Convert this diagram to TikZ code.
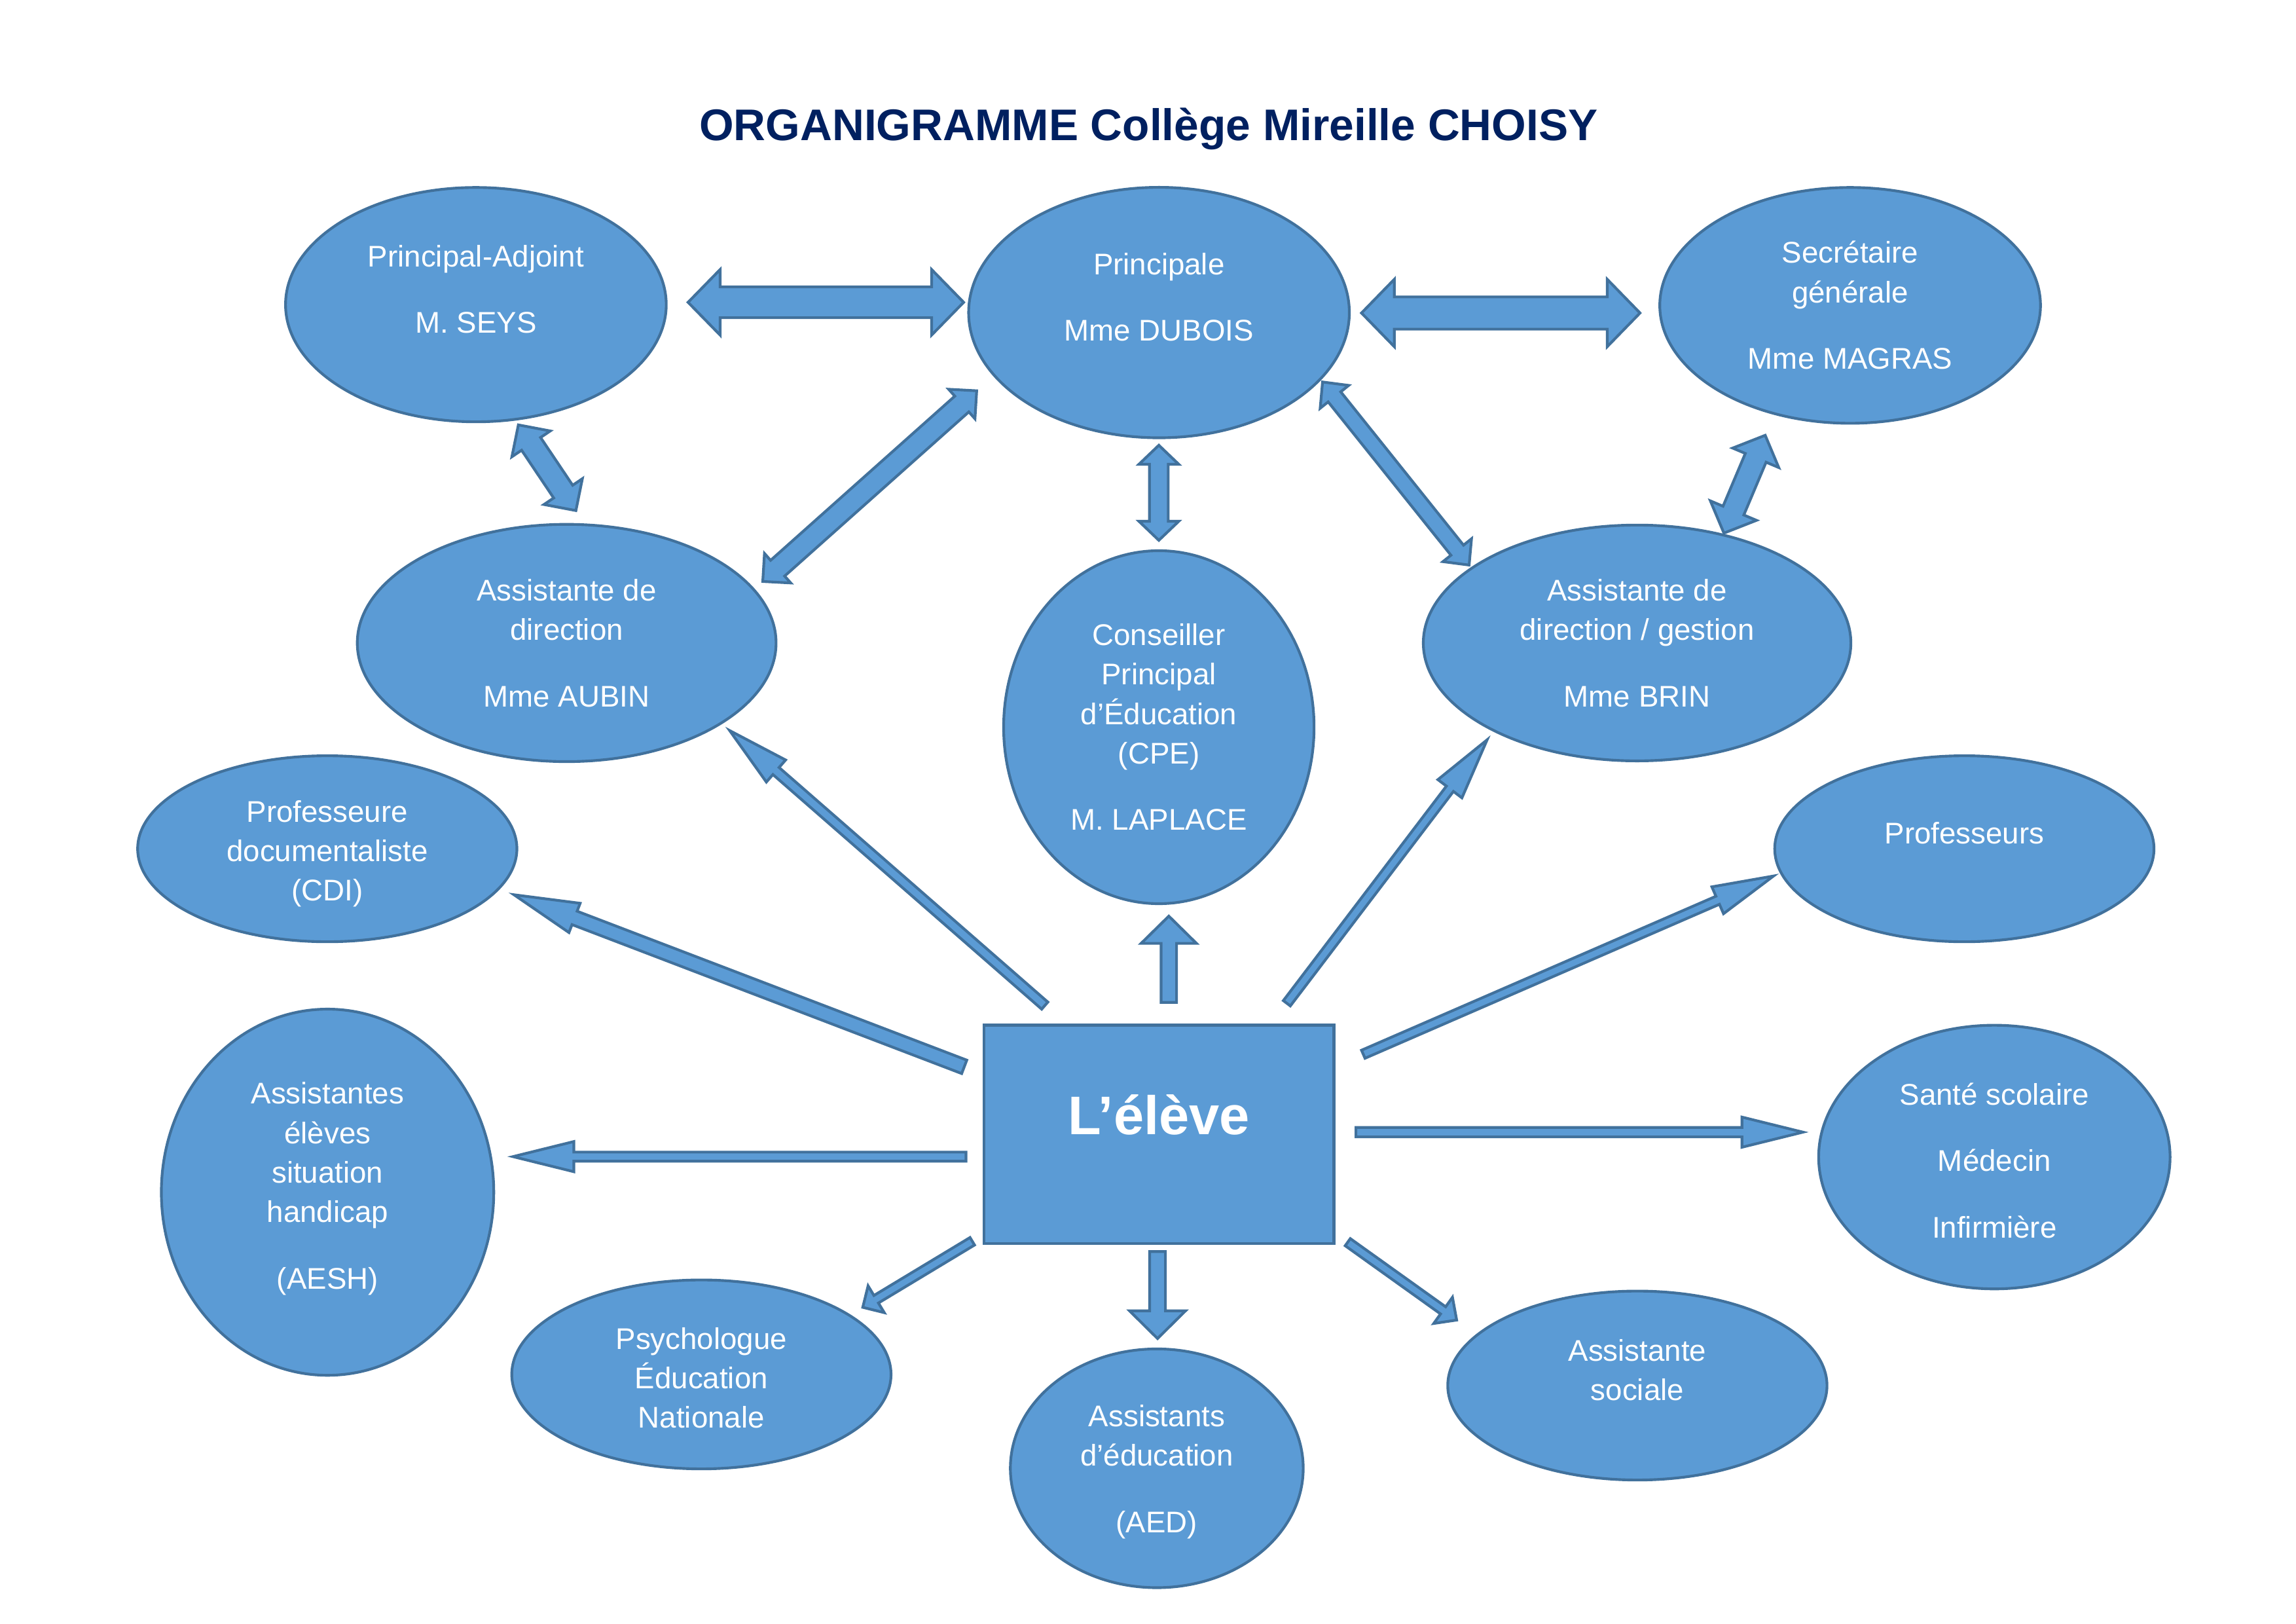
\documentclass[tikz,border=0pt]{standalone}
\usepackage{fontspec}
\setmainfont{Liberation Sans}
\usetikzlibrary{calc,shapes.geometric}

\definecolor{fillblue}{HTML}{5B9BD5}
\definecolor{edgeblue}{HTML}{41719C}
\definecolor{titleblue}{HTML}{002060}

% one pixel of the page
\def\pxu{0.018941cm}
% empty last line, pushes the text up a bit
\newcommand{\liftup}[1][-3pt]{\\[#1]\mbox{}}
% empty first line, pushes the text down a bit
\newcommand{\dropdown}[1][-3.9pt]{\mbox{}\\[#1]}

% block arrow: tail, tip, half shaft, half head, head length
\newcommand{\onearrow}[5]{%
  \coordinate (hb) at ($(#2)!#5*\pxu!(#1)$);
  \filldraw[barrow] ($(#1)!#3*\pxu!90:(#2)$) -- ($(hb)!#3*\pxu!90:(#2)$)
    -- ($(hb)!#4*\pxu!90:(#2)$) -- (#2) -- ($(hb)!#4*\pxu!-90:(#2)$)
    -- ($(hb)!#3*\pxu!-90:(#2)$) -- ($(#1)!#3*\pxu!-90:(#2)$) -- cycle;
}
% same with a head at both ends
\newcommand{\twoarrow}[5]{%
  \coordinate (ha) at ($(#1)!#5*\pxu!(#2)$);
  \coordinate (hb) at ($(#2)!#5*\pxu!(#1)$);
  \filldraw[barrow] (#1) -- ($(ha)!#4*\pxu!90:(#2)$) -- ($(ha)!#3*\pxu!90:(#2)$)
    -- ($(hb)!#3*\pxu!90:(#2)$) -- ($(hb)!#4*\pxu!90:(#2)$) -- (#2)
    -- ($(hb)!#4*\pxu!-90:(#2)$) -- ($(hb)!#3*\pxu!-90:(#2)$)
    -- ($(ha)!#3*\pxu!-90:(#2)$) -- ($(ha)!#4*\pxu!-90:(#2)$) -- cycle;
}

\begin{document}
\begin{tikzpicture}[x=\pxu, y=-\pxu,
    role/.style={ellipse, draw=edgeblue, fill=fillblue, line width=1pt, text=white,
      font=\fontsize{11}{14.5}\selectfont, align=center, inner sep=0pt},
    oval/.style 2 args={role, minimum width=#1*\pxu, minimum height=#2*\pxu},
    barrow/.style={draw=edgeblue, fill=fillblue, line width=1pt, line join=miter}]
    \useasboundingbox (0,0) rectangle (1568,1108.8);

    % the title
    \node[font=\fontsize{16.3}{19}\selectfont\bfseries, text=titleblue, anchor=base] (title) at (784.4,95.7) {ORGANIGRAMME Collège Mireille CHOISY};

    % the roles
    \node[oval={260}{160}] (pa) at (325,208) {Principal-Adjoint\\[10pt]M. SEYS\liftup};
    \node[oval={260}{171}] (pr) at (791.5,213.4) {Principale\\[10pt]Mme DUBOIS\liftup};
    \node[oval={260}{161}] (sg) at (1263.5,208.5) {Secrétaire\\générale\\[10pt]Mme MAGRAS};
    \node[oval={286}{162}] (au) at (387,439) {Assistante de\\direction\\[10pt]Mme AUBIN};
    \node[oval={212}{241}] (cpe) at (791.4,496.5) {Conseiller\\Principal\\d’Éducation\\(CPE)\\[10pt]M. LAPLACE};
    \node[oval={292}{161}] (br) at (1118,439) {Assistante de\\direction / gestion\\[10pt]Mme BRIN};
    \node[oval={259}{127}] (pd) at (223.5,579.5) {\dropdown[-2.8pt]Professeure\\documentaliste\\(CDI)};
    \node[oval={259}{127}] (pf) at (1341.5,579.5) {Professeurs\liftup};
    \node[oval={227}{250}] (aesh) at (223.7,814) {Assistantes\\élèves\\situation\\handicap\\[10pt](AESH)\liftup[-9.6pt]};
    \node[oval={240}{180}] (ss) at (1362,790) {\dropdown Santé scolaire\\[10pt]Médecin\\[10pt]Infirmière};
    \node[oval={259}{129}] (ps) at (479,938.4) {\dropdown Psychologue\\Éducation\\Nationale};
    \node[oval={200}{163}] (aed) at (790,1002.5) {\dropdown Assistants\\d’éducation\\[10pt](AED)};
    \node[oval={259}{129}] (as) at (1118.2,946) {Assistante\\sociale\liftup};

    % the pupil in the middle
    \node[rectangle, draw=edgeblue, fill=fillblue, line width=1pt, text=white,
      font=\fontsize{20}{24}\selectfont\bfseries, minimum width=239*\pxu, minimum height=149*\pxu,
      text height=14pt, text depth=14pt, inner sep=0pt] (el) at (791.5,774.4) {L’élève};

    % the ends of the arrows
    \coordinate (pa-e) at (469.9,206.4);
    \coordinate (pr-w) at (658.1,206.4);
    \coordinate (pr-e) at (929.8,213.7);
    \coordinate (sg-w) at (1120,213.7);
    \coordinate (pr-s) at (791.4,304);
    \coordinate (cpe-n) at (791.4,368.9);
    \coordinate (pa-s) at (354,290.1);
    \coordinate (au-n) at (393.3,348.6);
    \coordinate (au-ne) at (520.9,397);
    \coordinate (pr-sw) at (667,266.8);
    \coordinate (pr-se) at (903.2,260.8);
    \coordinate (br-nw) at (1003.3,385.8);
    \coordinate (sg-s) at (1205.5,297.2);
    \coordinate (br-n) at (1177.3,364);
    %
    \coordinate (el-n) at (798.2,684.4);
    \coordinate (cpe-s) at (798.2,625.5);
    \coordinate (el-s) at (790.5,854.5);
    \coordinate (aed-n) at (790.5,913.9);
    \coordinate (el-w) at (659.7,789.7);
    \coordinate (aesh-e) at (350.3,789.7);
    \coordinate (el-e) at (926,773);
    \coordinate (ss-w) at (1231.3,773);
    \coordinate (el-wnw) at (658.5,728.4);
    \coordinate (pd-e) at (351,610.9);
    \coordinate (el-nw) at (713.5,686.6);
    \coordinate (au-se) at (498.3,498.8);
    \coordinate (el-ne) at (878.8,685);
    \coordinate (br-sw) at (1015.6,505.1);
    \coordinate (el-ene) at (931,719.8);
    \coordinate (pf-w) at (1211.2,598.1);
    \coordinate (el-sw) at (664,847.5);
    \coordinate (ps-ne) at (589.2,892.6);
    \coordinate (el-se) at (920.4,848.1);
    \coordinate (as-nw) at (994.8,901.3);

    % draw the arrows between the heads
    \twoarrow{pa-e}{pr-w}{10.5}{22.4}{21.9}
    \twoarrow{pr-e}{sg-w}{11}{23}{22.4}
    \twoarrow{pr-s}{cpe-n}{6.4}{13.6}{13}
    \twoarrow{pa-s}{au-n}{7.8}{15.8}{15.6}
    \twoarrow{au-ne}{pr-sw}{7.2}{13.5}{13.6}
    \twoarrow{pr-se}{br-nw}{5.5}{12.5}{13}
    \twoarrow{sg-s}{br-n}{7.7}{17.1}{16.7}

    % draw the arrows from the pupil
    \onearrow{el-n}{cpe-s}{5.3}{18.9}{18.6}
    \onearrow{el-s}{aed-n}{5.4}{19.1}{18.9}
    \onearrow{el-w}{aesh-e}{3.1}{10.3}{41.6}
    \onearrow{el-e}{ss-w}{3.2}{10.3}{41.7}
    \onearrow{el-wnw}{pd-e}{4.9}{10.7}{44.3}
    \onearrow{el-nw}{au-se}{3.2}{10}{42}
    \onearrow{el-ne}{br-sw}{3}{10.3}{42}
    \onearrow{el-ene}{pf-w}{3}{10}{41.6}
    \onearrow{el-sw}{ps-ne}{3}{10.7}{10.7}
    \onearrow{el-se}{as-nw}{3}{11}{11.4}
\end{tikzpicture}
\end{document}
